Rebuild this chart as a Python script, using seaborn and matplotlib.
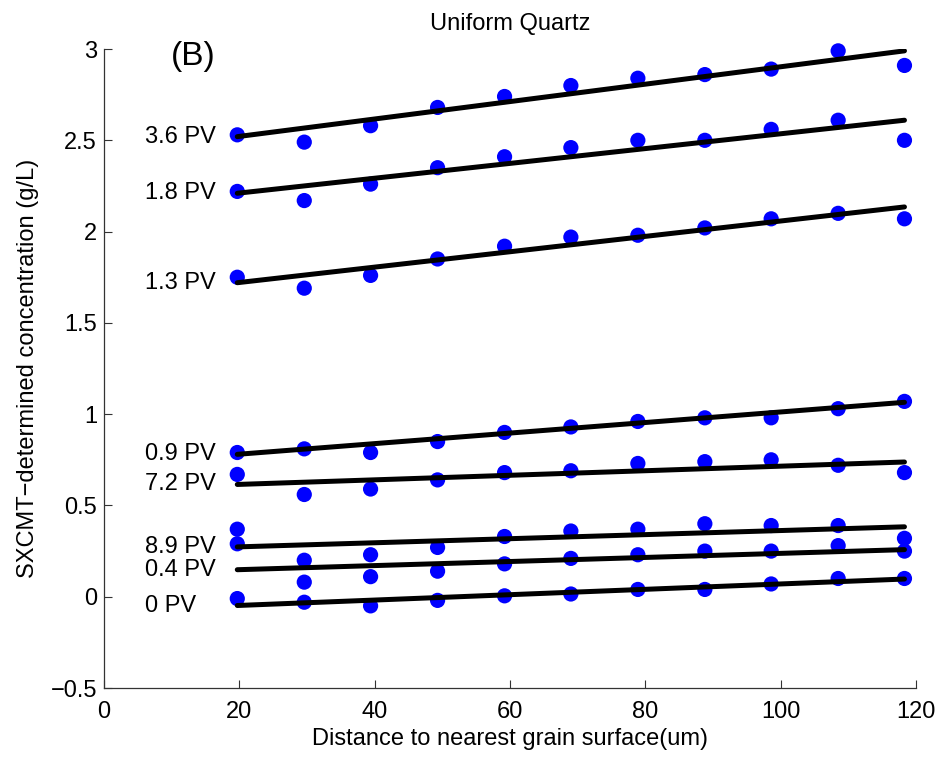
import numpy as np
import pandas as pd
import matplotlib
matplotlib.use("Agg")
import matplotlib.pyplot as plt
import seaborn as sns

# ---- data ----
distance = [19.7, 29.6, 39.4, 49.3, 59.2, 69.0, 78.9, 88.8, 98.6, 108.5, 118.3]

pv_labels = ["3.6 PV", "1.8 PV", "1.3 PV", "0.9 PV", "7.2 PV", "8.9 PV", "0.4 PV", "0 PV"]

conc_3_6 = [2.53, 2.49, 2.58, 2.68, 2.74, 2.80, 2.84, 2.86, 2.89, 2.99, 2.91]
conc_1_8 = [2.22, 2.17, 2.26, 2.35, 2.41, 2.46, 2.50, 2.50, 2.56, 2.61, 2.50]
conc_1_3 = [1.75, 1.69, 1.76, 1.85, 1.92, 1.97, 1.98, 2.02, 2.07, 2.10, 2.07]
conc_0_9 = [0.79, 0.81, 0.79, 0.85, 0.90, 0.93, 0.96, 0.98, 0.98, 1.03, 1.07]
conc_7_2 = [0.67, 0.56, 0.59, 0.64, 0.68, 0.69, 0.73, 0.74, 0.75, 0.72, 0.68]
conc_8_9 = [0.37, 0.20, 0.23, 0.27, 0.33, 0.36, 0.37, 0.40, 0.39, 0.39, 0.32]
conc_0_4 = [0.29, 0.08, 0.11, 0.14, 0.18, 0.21, 0.23, 0.25, 0.25, 0.28, 0.25]
conc_0_0 = [-0.01, -0.03, -0.05, -0.02, 0.005, 0.015, 0.04, 0.04, 0.07, 0.10, 0.10]

# fitted line end values (at first and last distance)
fit_start = [2.52, 2.21, 1.72, 0.78, 0.615, 0.273, 0.148, -0.048]
fit_end = [2.99, 2.61, 2.135, 1.065, 0.738, 0.383, 0.258, 0.097]

series = [conc_3_6, conc_1_8, conc_1_3, conc_0_9, conc_7_2, conc_8_9, conc_0_4, conc_0_0]

pts = pd.DataFrame({
    "distance": np.tile(distance, len(series)),
    "conc": np.concatenate(series),
    "pv": np.repeat(pv_labels, len(distance)),
})
fits = pd.DataFrame({
    "distance": np.tile([distance[0], distance[-1]], len(series)),
    "conc": np.ravel(np.column_stack([fit_start, fit_end])),
    "pv": np.repeat(pv_labels, 2),
})

sns.set_theme(style="ticks")
plt.rcParams["font.family"] = ["Liberation Sans", "DejaVu Sans"]

FS = 17
fig = plt.figure(figsize=(9.41, 7.6), dpi=100)
ax = fig.add_axes([0.1105, 0.0947, 0.8629, 0.8408])

sns.scatterplot(data=pts, x="distance", y="conc", color="#0000ff", s=120,
                edgecolor="none", ax=ax, legend=False, zorder=2, clip_on=False)
sns.lineplot(data=fits, x="distance", y="conc", units="pv", estimator=None,
             color="black", linewidth=3.6, ax=ax, legend=False, zorder=3)

for lab, ys in zip(pv_labels, fit_start):
    ax.text(6.1, ys, lab, ha="left", va="center", fontsize=FS, color="black")

ax.text(13.2, 2.96, "(B)", ha="center", va="center", fontsize=24, color="black")

ax.set_xlim(0, 120)
ax.set_ylim(-0.5, 3)
ax.set_xticks([0, 20, 40, 60, 80, 100, 120])
ax.set_yticks([-0.5, 0, 0.5, 1, 1.5, 2, 2.5, 3])
ax.set_yticklabels(["\u22120.5", "0", "0.5", "1", "1.5", "2", "2.5", "3"])
ax.tick_params(direction="in", length=5.8, width=0.8, labelsize=FS, colors="#333333",
               labelcolor="black")
ax.tick_params(axis="y", pad=5)
ax.tick_params(axis="x", pad=9)
for s in ["top", "right"]:
    ax.spines[s].set_visible(False)
for s in ["left", "bottom"]:
    ax.spines[s].set_linewidth(0.9)
    ax.spines[s].set_color("#333333")

ax.set_xlabel("Distance to nearest grain surface(um)", fontsize=FS, color="black", labelpad=4)
ax.set_ylabel("SXCMT\u2212determined concentration (g/L)", fontsize=FS, color="black", labelpad=8)
ax.set_title("Uniform Quartz", fontsize=FS, color="black", pad=14)

fig.savefig("out.png", dpi=100)
